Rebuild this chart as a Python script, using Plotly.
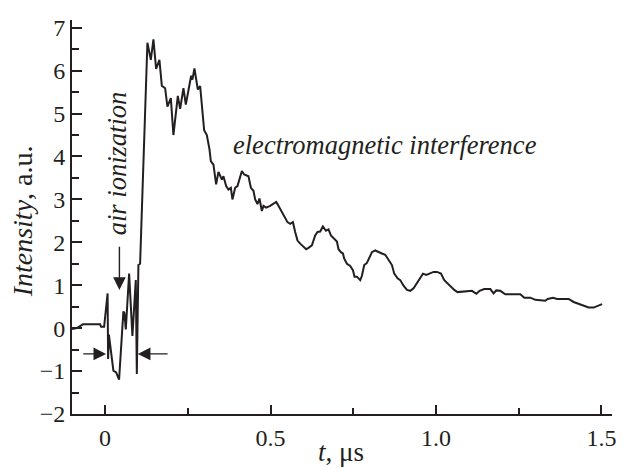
import plotly.graph_objects as go

t_us = [-0.100, -0.085, -0.067, -0.045, -0.015, -0.012, -0.003, 0.0076, 0.0091, 0.0115,
        0.0251, 0.0333, 0.0423, 0.0553, 0.0584, 0.0626, 0.0726, 0.0826, 0.0928, 0.0959,
        0.1007, 0.1058, 0.1179, 0.1279, 0.1382, 0.1461, 0.1542, 0.1642, 0.1715, 0.1814,
        0.1884, 0.1987, 0.2065, 0.2198, 0.2268, 0.2368, 0.2440, 0.2549, 0.2601, 0.2640,
        0.2700, 0.2803, 0.2873, 0.2994, 0.3075, 0.3154, 0.3196, 0.3275, 0.3356, 0.3426,
        0.3529, 0.3577, 0.3659, 0.3728, 0.3801, 0.3849, 0.3931, 0.4001, 0.4061, 0.4134,
        0.4203, 0.4333, 0.4406, 0.4484, 0.4536, 0.4605, 0.4666, 0.4738, 0.4787, 0.4868,
        0.4989, 0.5089, 0.5171, 0.5210, 0.5292, 0.5373, 0.5443, 0.5512, 0.5594, 0.5676,
        0.5745, 0.5815, 0.5897, 0.5996, 0.6078, 0.6147, 0.6250, 0.6350, 0.6420, 0.6501,
        0.6583, 0.6674, 0.6752, 0.6825, 0.6904, 0.7006, 0.7055, 0.7127, 0.7188, 0.7227,
        0.7309, 0.7408, 0.7490, 0.7539, 0.7611, 0.7660, 0.7711, 0.7762, 0.7832, 0.7913,
        0.7992, 0.8065, 0.8164, 0.8264, 0.8367, 0.8467, 0.8567, 0.8669, 0.8739, 0.8839,
        0.8920, 0.9020, 0.9123, 0.9223, 0.9323, 0.9444, 0.9525, 0.9607, 0.9707, 0.9828,
        0.9927, 1.0030, 1.0151, 1.0251, 1.0351, 1.0453, 1.0553, 1.0653, 1.0756, 1.0886,
        1.1089, 1.1219, 1.1318, 1.1460, 1.1642, 1.1742, 1.1823, 1.1944, 1.2096, 1.2298,
        1.2549, 1.2670, 1.2852, 1.3003, 1.3175, 1.3305, 1.3375, 1.3538, 1.3659, 1.4010,
        1.4161, 1.4364, 1.4614, 1.4766, 1.4887, 1.5020]

intensity = [-0.02, 0.00, 0.09, 0.09, 0.09, 0.03, 0.03, 0.81, -0.72, -0.15,
             -0.99, -1.03, -1.20, 0.39, 0.35, -0.03, 1.27, -0.18, 1.12, -1.07,
             1.47, 1.50, 4.25, 6.65, 6.25, 6.73, 6.04, 6.25, 5.65, 5.59,
             5.16, 5.36, 4.50, 5.41, 5.11, 5.59, 5.21, 5.73, 5.88, 5.79,
             6.05, 5.56, 5.64, 4.61, 4.50, 4.17, 3.89, 3.81, 3.35, 3.64,
             3.46, 3.54, 3.31, 3.23, 3.27, 3.00, 3.27, 3.31, 3.46, 3.66,
             3.58, 3.54, 3.27, 3.20, 3.00, 2.89, 3.02, 2.73, 2.85, 2.81,
             2.85, 2.89, 2.94, 2.89, 2.77, 2.68, 2.54, 2.47, 2.43, 2.47,
             2.24, 2.04, 1.97, 1.89, 1.84, 1.87, 1.93, 2.16, 2.24, 2.25,
             2.37, 2.27, 2.30, 2.16, 2.10, 2.02, 1.84, 1.77, 1.74, 1.62,
             1.50, 1.45, 1.35, 1.20, 1.20, 1.17, 1.12, 1.22, 1.47, 1.52,
             1.66, 1.77, 1.81, 1.77, 1.74, 1.71, 1.58, 1.47, 1.27, 1.16,
             1.12, 0.99, 0.89, 0.87, 0.93, 1.08, 1.20, 1.27, 1.24, 1.27,
             1.31, 1.31, 1.27, 1.12, 1.04, 0.97, 0.89, 0.84, 0.85, 0.86,
             0.87, 0.80, 0.87, 0.91, 0.91, 0.81, 0.88, 0.87, 0.79, 0.79,
             0.79, 0.71, 0.71, 0.66, 0.64, 0.64, 0.68, 0.71, 0.68, 0.68,
             0.61, 0.55, 0.48, 0.48, 0.52, 0.56]

x_tick_vals = [0, 0.5, 1.0, 1.5]
x_tick_text = ["0", "0.5", "1.0", "1.5"]
y_tick_vals = [-2, -1, 0, 1, 2, 3, 4, 5, 6, 7]

INK = "#231f20"
FONT = "Liberation Serif"
TICK_SIZE = 24
TITLE_SIZE = 27
NOTE_SIZE = 26.5

fig = go.Figure()
fig.add_trace(go.Scatter(x=t_us, y=intensity, mode="lines",
                         line=dict(color=INK, width=2), showlegend=False,
                         hoverinfo="skip"))

# The page body has an 8 px margin, so the figure is sized/offset to compensate.
fig.update_layout(
    width=616, height=460,
    margin=dict(l=64, r=12, t=7, b=54),
    paper_bgcolor="white", plot_bgcolor="white",
    font=dict(family=FONT, size=TICK_SIZE, color=INK),
    xaxis=dict(range=[-0.1, 1.532], showgrid=False, zeroline=False,
               showline=True, linecolor=INK, linewidth=2,
               ticks="inside", ticklen=9, tickwidth=1.5, tickcolor=INK,
               tickvals=x_tick_vals, ticktext=x_tick_text,
               ticklabelstandoff=1,
               minor=dict(dtick=0.25, ticks="inside", ticklen=6, tickwidth=1.5, tickcolor=INK),
               tickfont=dict(family=FONT, size=TICK_SIZE, color=INK)),
    yaxis=dict(range=[-2, 7.18], showgrid=False, zeroline=False,
               showline=True, linecolor=INK, linewidth=2,
               ticks="inside", ticklen=10, tickwidth=1.5, tickcolor=INK,
               tickvals=y_tick_vals,
               minor=dict(dtick=0.5, ticks="inside", ticklen=7, tickwidth=1.5, tickcolor=INK),
               tickfont=dict(family=FONT, size=TICK_SIZE, color=INK)),
)

# axis titles
fig.add_annotation(text="<i>t</i>, μs", xref="paper", yref="paper", x=0.498, y=-0.0952,
                   showarrow=False, xanchor="center", yanchor="middle",
                   font=dict(family=FONT, size=TITLE_SIZE, color=INK))
fig.add_annotation(text="<i>Intensity</i>, a.u.", xref="paper", yref="paper", x=-0.09, y=0.49,
                   showarrow=False, textangle=-90, xanchor="center", yanchor="middle",
                   font=dict(family=FONT, size=28, color=INK))

# text labels
fig.add_annotation(text="<i>air ionization</i>", xref="x", yref="y", x=0.037, y=3.85,
                   showarrow=False, textangle=-90, xanchor="center", yanchor="middle",
                   font=dict(family=FONT, size=NOTE_SIZE, color=INK))
fig.add_annotation(text="<i>electromagnetic interference</i>", xref="x", yref="y", x=0.845, y=4.26,
                   showarrow=False, xanchor="center", yanchor="middle",
                   font=dict(family=FONT, size=NOTE_SIZE, color=INK))

# arrows
arrow_style = dict(showarrow=True, arrowhead=2, arrowsize=1.8, arrowwidth=1.4,
                   arrowcolor=INK, standoff=0, text="", xref="x", yref="y",
                   axref="x", ayref="y")
fig.add_annotation(x=0.0433, y=0.89, ax=0.0433, ay=1.93, **arrow_style)
fig.add_annotation(x=0.003, y=-0.6, ax=-0.0705, ay=-0.6, **arrow_style)
fig.add_annotation(x=0.0989, y=-0.6, ax=0.1935, ay=-0.6, **arrow_style)

fig.write_html("out.html")
